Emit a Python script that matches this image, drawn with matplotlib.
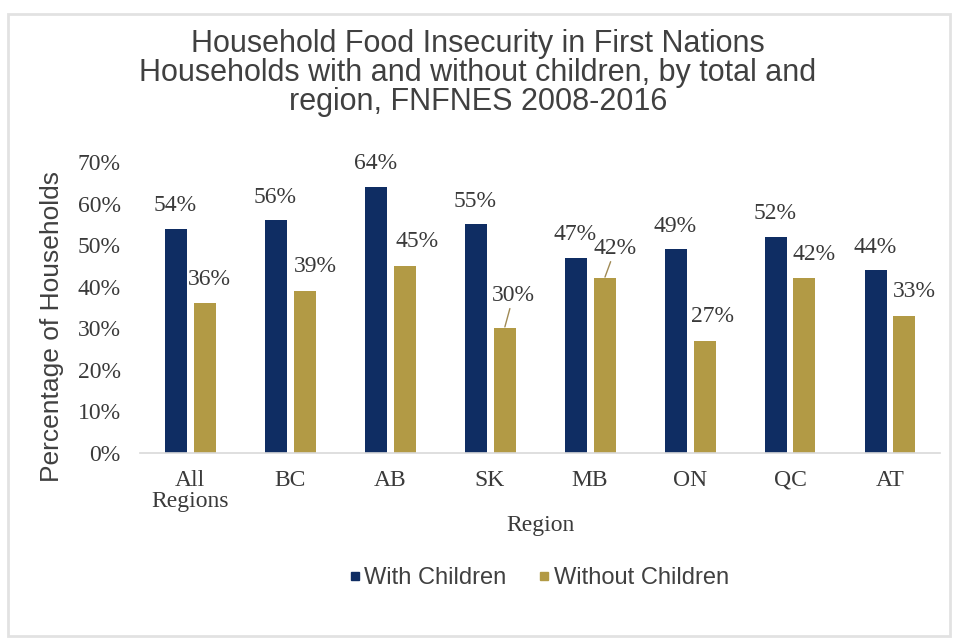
import matplotlib.pyplot as plt
from matplotlib.lines import Line2D
from matplotlib.patches import Rectangle
from matplotlib.ticker import PercentFormatter
import numpy as np

# data
regions = ['All\nRegions', 'BC', 'AB', 'SK', 'MB', 'ON', 'QC', 'AT']
with_children = [54, 56, 64, 55, 47, 49, 52, 44]
without_children = [36, 39, 45, 30, 42, 27, 42, 33]

# label placement tweaks (pixels), leader line for crowded labels
gold_label_offset = [(5, 24), (11, 24), (13, 24), (9, 33), (11, 30), (8, 24), (10, 24), (10, 24)]
gold_leader = [False, False, False, True, True, False, False, False]

navy = '#0f2d63'
gold = '#b29a45'
serif = ['Liberation Serif', 'DejaVu Serif']
sans = ['Liberation Sans', 'DejaVu Sans']

fig = plt.figure(figsize=(9.56, 6.41), dpi=100)
W, H = 956, 641
ax = fig.add_axes([140 / W, 1 - 453 / H, 800 / W, 291 / H])

x = np.arange(len(regions))
bw = 0.22
ax.bar(x - 0.145, with_children, bw, color=navy)
ax.bar(x + 0.145, without_children, bw, color=gold)

# value labels
for i, v in enumerate(with_children):
    ax.annotate('{}%'.format(v), (x[i] - 0.145, v), xytext=(0, 23), textcoords='offset pixels',
                ha='center', va='center', fontsize=17, family=serif, color='#3a3a3a')
for i, v in enumerate(without_children):
    dx, dy = gold_label_offset[i]
    arrow = dict(arrowstyle='-', color='#a08a55', lw=1, shrinkA=0, shrinkB=1) if gold_leader[i] else None
    ax.annotate('{}%'.format(v), (x[i] + 0.145, v), xytext=(dx, dy), textcoords='offset pixels',
                ha='center', va='center', fontsize=17, family=serif, color='#3a3a3a',
                arrowprops=arrow)

ax.set_xlim(-0.5, 7.5)
ax.set_ylim(0, 70)
ax.set_yticks(np.arange(0, 71, 10))
ax.yaxis.set_major_formatter(PercentFormatter(decimals=0))
ax.set_xticks(x)
ax.set_xticklabels(regions, linespacing=1.05)
ax.tick_params(length=0, labelsize=17, labelcolor='#3a3a3a')
ax.tick_params(axis='y', pad=14)
ax.tick_params(axis='x', pad=12)
for lab in ax.get_xticklabels() + ax.get_yticklabels():
    lab.set_family(serif)

for s in ['top', 'right', 'left']:
    ax.spines[s].set_visible(False)
ax.spines['bottom'].set_color('#d9d9d9')
ax.spines['bottom'].set_linewidth(1.2)

ax.set_xlabel('Region', fontsize=17, family=serif, color='#3a3a3a')
ax.xaxis.label.set_va('center')
ax.xaxis.set_label_coords(0.5, (453 - 525) / 291)
ax.set_ylabel('Percentage of Households', fontsize=19, family=sans, color='#404040')
ax.yaxis.label.set_va('center')
ax.yaxis.set_label_coords((52 - 140) / 800, (453 - 327) / 291)

# title
fig.text(478 / W, 1 - 73 / H,
         'Household Food Insecurity in First Nations\nHouseholds with and without children, by total and\nregion, FNFNES 2008-2016',
         ha='center', va='center', fontsize=22, family=sans, color='#404040', linespacing=0.95)

# legend
handles = [Line2D([], [], marker='s', ls='', color=navy, markersize=6),
           Line2D([], [], marker='s', ls='', color=gold, markersize=6)]
fig.legend(handles, ['With Children', 'Without Children'], loc='center', ncol=2,
           bbox_to_anchor=(537 / W, 1 - 578 / H), frameon=False, handletextpad=0.0,
           columnspacing=1.2, handlelength=0.8, prop={'family': sans, 'size': 17},
           labelcolor='#404040')

# light frame around the chart
fig.patches.append(Rectangle((8 / W, 5 / H), 942 / W, 622 / H, transform=fig.transFigure,
                             fill=False, edgecolor='#e2e2e2', lw=2))

fig.savefig('out.png', dpi=100)
